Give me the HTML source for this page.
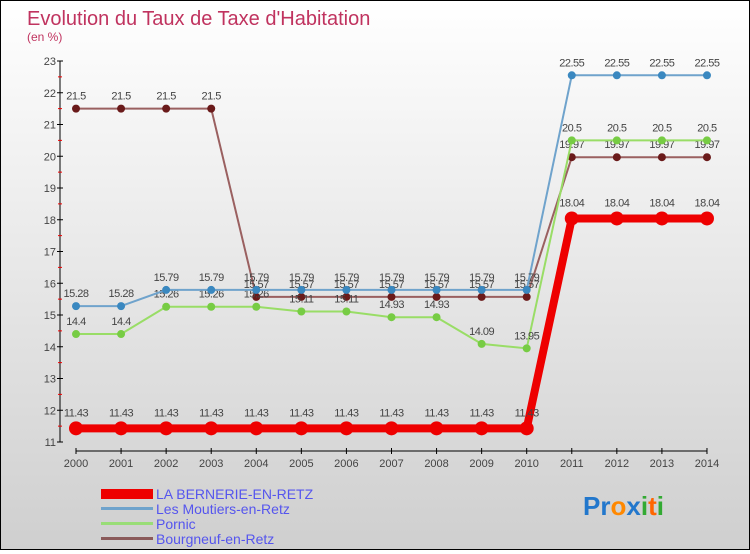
<!DOCTYPE html>
<html><head><meta charset="utf-8"><style>
body{margin:0;width:750px;height:550px;overflow:hidden;font-family:"Liberation Sans",sans-serif}
#wrap{position:relative;width:748px;height:548px;border:1px solid #000;background:linear-gradient(#ffffff,#cfcfcf)}
</style></head><body>
<div id="wrap">
<svg id="chart" width="748" height="548">
<text x="26" y="24" font-size="20" fill="#c0335f">Evolution du Taux de Taxe d'Habitation</text>
<text x="26" y="40" font-size="12" fill="#c0335f">(en %)</text>
<g id="axes"></g><g id="series"></g>
<g>
<rect x="100" y="488" width="52" height="10" fill="#e00"/>
<text x="155" y="498" font-size="14" fill="#5555ee">LA BERNERIE-EN-RETZ</text>
<rect x="100" y="506" width="52" height="3" fill="#6fa3cc"/>
<text x="155" y="513" font-size="14" fill="#5555ee">Les Moutiers-en-Retz</text>
<rect x="100" y="521" width="52" height="3" fill="#99dd77"/>
<text x="155" y="528" font-size="14" fill="#5555ee">Pornic</text>
<rect x="100" y="536" width="52" height="3" fill="#8a5a5a"/>
<text x="155" y="543" font-size="14" fill="#5555ee">Bourgneuf-en-Retz</text>
</g>
<text x="582" y="514" font-size="26" font-weight="bold"><tspan fill="#2277cc">Pr</tspan><tspan fill="#ff8800">o</tspan><tspan fill="#2277cc">x</tspan><tspan fill="#33aa33">i</tspan><tspan fill="#ff6600">t</tspan><tspan fill="#33aa33">i</tspan></text>
</svg></div>
<script>
const years=[2000,2001,2002,2003,2004,2005,2006,2007,2008,2009,2010,2011,2012,2013,2014];
const bernerie=[11.43,11.43,11.43,11.43,11.43,11.43,11.43,11.43,11.43,11.43,11.43,18.04,18.04,18.04,18.04];
const moutiers=[15.28,15.28,15.79,15.79,15.79,15.79,15.79,15.79,15.79,15.79,15.79,22.55,22.55,22.55,22.55];
const pornic=[14.4,14.4,15.26,15.26,15.26,15.11,15.11,14.93,14.93,14.09,13.95,20.5,20.5,20.5,20.5];
const bourgneuf=[21.5,21.5,21.5,21.5,15.57,15.57,15.57,15.57,15.57,15.57,15.57,19.97,19.97,19.97,19.97];
const yTicks=[11,12,13,14,15,16,17,18,19,20,21,22,23];
const NS='http://www.w3.org/2000/svg';
const xs=i=>75+i*45.07, ys=v=>441-(v-11)*31.75;
function mk(t,a,p){const e=document.createElementNS(NS,t);for(const k in a)e.setAttribute(k,a[k]);p.appendChild(e);return e;}
const ax=document.getElementById('axes'),sg=document.getElementById('series');
let l=mk('line',{x1:59,y1:ys(23),x2:59,y2:ys(11),stroke:'#000'},ax);

yTicks.forEach(v=>{mk('line',{x1:56,x2:62,y1:ys(v),y2:ys(v),stroke:'#000'},ax);
 if(v<23)mk('line',{x1:57,x2:61,y1:ys(v+0.5),y2:ys(v+0.5),stroke:'#e00'},ax);
 const t=mk('text',{x:55,y:ys(v)+4,'font-size':11,fill:'#444','text-anchor':'end'},ax);t.textContent=v;
 });
l=mk('line',{x1:xs(0),y1:450,x2:xs(14),y2:450,stroke:'#000'},ax);

years.forEach((y,i)=>{mk('line',{x1:xs(i),x2:xs(i),y1:447,y2:453,stroke:'#000'},ax);
 const t=mk('text',{x:xs(i),y:466,'font-size':11,fill:'#444','text-anchor':'middle'},ax);t.textContent=y;
 });
function draw(d,name,col,dot,w,r,lblOff){
 const g=mk('g',{},sg);
 mk('polyline',{points:d.map((v,i)=>xs(i)+','+ys(v)).join(' '),fill:'none',stroke:col,'stroke-width':w},g);
 d.forEach((v,i)=>{const c=mk('circle',{cx:xs(i),cy:ys(v),r:r,fill:dot},g);
  
  const t=mk('text',{x:xs(i),y:ys(v)+lblOff,'font-size':11,fill:'#444','text-anchor':'middle','letter-spacing':'-0.5'},g);t.textContent=v;
  });
}
draw(bourgneuf,'bourgneuf','#9a6060','#6a1a1a',2,4,-9);
draw(pornic,'pornic','#99dd66','#77cc44',2,4,-9);
draw(moutiers,'moutiers','#6fa3cc','#3a88c0',2,4,-9);
draw(bernerie,'bernerie','#ee0000','#ee0000',8,7,-12);
</script></body></html>
